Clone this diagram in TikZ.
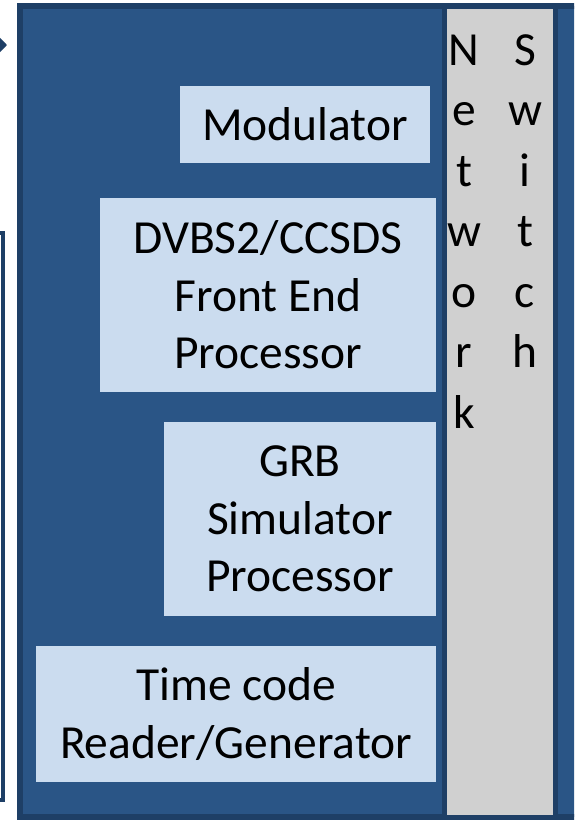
\documentclass[tikz,border=0pt]{standalone}
\usepackage{fontspec}
\setmainfont{Carlito}
\usetikzlibrary{arrows.meta}
\definecolor{bgblue}{HTML}{2A5586}
\definecolor{edgeblue}{HTML}{1E3F66}
\definecolor{lightbox}{HTML}{CBDCEF}
\definecolor{switchgray}{HTML}{D0D0D0}
\tikzset{
  unit/.style={fill=lightbox, draw=none, inner sep=0pt, align=center,
    font=\fontsize{47.5}{57.5}\selectfont},
  letter/.style={anchor=base, inner sep=0pt, font=\fontsize{47.5}{55}\selectfont},
}
\begin{document}
\begin{tikzpicture}[x=1pt,y=-1pt]
\useasboundingbox (0,0) rectangle (574,820);
\clip (0,0) rectangle (574,820);
% left outline box (partly off picture)
\draw[edgeblue, line width=4pt] (-20,233) rectangle (3,800);
% incoming arrow tip
\coordinate (arrowstart) at (-40,45);
\coordinate (arrowend) at (7,45);
\draw[edgeblue, line width=4pt, -{Triangle[length=9pt,width=18pt]}] (arrowstart) -- (arrowend);
% main blue enclosure
\draw[fill=bgblue, draw=edgeblue, line width=6pt] (20,6) rectangle (600,817);
% network switch
\draw[fill=switchgray, draw=edgeblue, line width=5pt] (444.5,6) rectangle (555.5,817);
% units
\node[unit, minimum width=250pt, minimum height=77pt] (mod) at (305,124.5) {Modulator};
\node[unit, minimum width=336pt, minimum height=194pt] (dvb) at (268,295) {DVBS2/CCSDS\\Front End\\Processor};
\node[unit, minimum width=272pt, minimum height=194pt] (grb) at (300,519) {GRB\\Simulator\\Processor};
\node[unit, minimum width=400pt, minimum height=136pt] (tc) at (236,714) {Time code\\Reader/Generator};
% vertical letters
\foreach \ch [count=\i from 0] in {N,e,t,w,o,r,k}
  \node[letter] (net\i) at (464,65+60.5*\i) {\ch};
\foreach \ch [count=\i from 0] in {S,w,i,t,c,h}
  \node[letter] (sw\i) at (525,65+60.5*\i) {\ch};
\end{tikzpicture}
\end{document}
